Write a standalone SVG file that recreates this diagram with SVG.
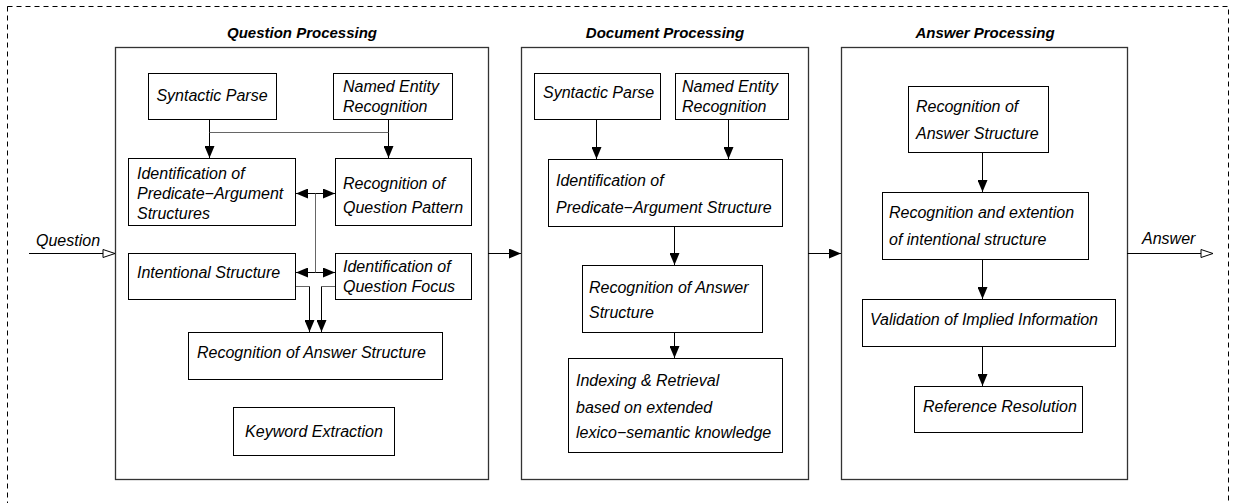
<svg xmlns="http://www.w3.org/2000/svg" width="1235" height="503" viewBox="0 0 1235 503">
<style>
text{font-family:"Liberation Sans",Arial,sans-serif;font-size:16px;font-style:italic;fill:#000}
.title{font-weight:bold;font-size:15px}
.box{fill:#fff;stroke:#000;stroke-width:1}
.panel{fill:none;stroke:#333;stroke-width:1.3}
.ln{fill:none;stroke:#000;stroke-width:1}
.gl{fill:none;stroke:#666;stroke-width:1}
</style>
<defs>
<marker id="ah" viewBox="0 0 12 10" refX="12" refY="5" markerWidth="12" markerHeight="10" markerUnits="userSpaceOnUse" orient="auto-start-reverse"><path d="M0,0L12,5L0,10Z" fill="#000"/></marker>
<marker id="oh" viewBox="0 0 14 10" refX="13" refY="5" markerWidth="14" markerHeight="10" markerUnits="userSpaceOnUse" orient="auto"><path d="M1,1L13,5L1,9Z" fill="#fff" stroke="#000" stroke-width="1"/></marker>
</defs>
<rect x="7.5" y="6.5" width="1221" height="505" fill="none" stroke="#000" stroke-dasharray="5,4"/>

<g id="panels">
<rect class="panel" x="115.5" y="47.5" width="373" height="432"/>
<rect class="panel" x="521.5" y="47.5" width="287" height="432"/>
<rect class="panel" x="841.5" y="47.5" width="286" height="432"/>
<text class="title" x="302" y="38" text-anchor="middle">Question Processing</text>
<text class="title" x="665" y="38" text-anchor="middle">Document Processing</text>
<text class="title" x="985" y="38" text-anchor="middle">Answer Processing</text>
</g>

<g id="q-sp"><rect class="box" x="148.5" y="73.5" width="128" height="46"/><text x="212" y="101" text-anchor="middle">Syntactic Parse</text></g>
<g id="q-ner"><rect class="box" x="333.5" y="73.5" width="119" height="46"/><text x="343" y="92">Named Entity</text><text x="343" y="112">Recognition</text></g>
<g id="q-ipa"><rect class="box" x="128.5" y="158.5" width="167" height="67"/><text x="137" y="179">Identification of</text><text x="137" y="199">Predicate−Argument</text><text x="137" y="219">Structures</text></g>
<g id="q-rqp"><rect class="box" x="335.5" y="158.5" width="136" height="67"/><text x="343" y="189">Recognition of</text><text x="343" y="213">Question Pattern</text></g>
<g id="q-is"><rect class="box" x="128.5" y="253.5" width="167" height="46"/><text x="137" y="278">Intentional Structure</text></g>
<g id="q-iqf"><rect class="box" x="335.5" y="253.5" width="136" height="46"/><text x="343" y="272">Identification of</text><text x="343" y="292">Question Focus</text></g>
<g id="q-ras"><rect class="box" x="188.5" y="332.5" width="254" height="47"/><text x="197" y="358">Recognition of Answer Structure</text></g>
<g id="q-ke"><rect class="box" x="233.5" y="407.5" width="161" height="48"/><text x="314" y="437" text-anchor="middle">Keyword Extraction</text></g>

<g id="d-sp"><rect class="box" x="534.5" y="73.5" width="126" height="46"/><text x="543" y="98">Syntactic Parse</text></g>
<g id="d-ner"><rect class="box" x="675.5" y="73.5" width="113" height="46"/><text x="682" y="92">Named Entity</text><text x="682" y="112">Recognition</text></g>
<g id="d-ipa"><rect class="box" x="548.5" y="159.5" width="234" height="67"/><text x="556" y="186">Identification of</text><text x="556" y="213">Predicate−Argument Structure</text></g>
<g id="d-ras"><rect class="box" x="582.5" y="265.5" width="180" height="67"/><text x="589" y="293">Recognition of Answer</text><text x="589" y="318">Structure</text></g>
<g id="d-ir"><rect class="box" x="568.5" y="358.5" width="214" height="94"/><text x="576" y="386">Indexing &amp; Retrieval</text><text x="576" y="413">based on extended</text><text x="576" y="438">lexico−semantic knowledge</text></g>

<g id="a-ras"><rect class="box" x="908.5" y="86.5" width="140" height="66"/><text x="916" y="112">Recognition of</text><text x="916" y="139">Answer Structure</text></g>
<g id="a-rei"><rect class="box" x="882.5" y="192.5" width="206" height="67"/><text x="889" y="218">Recognition and extention</text><text x="889" y="245">of intentional structure</text></g>
<g id="a-vii"><rect class="box" x="862.5" y="299.5" width="253" height="47"/><text x="870" y="325">Validation of Implied Information</text></g>
<g id="a-rr"><rect class="box" x="914.5" y="386.5" width="168" height="46"/><text x="923" y="412">Reference Resolution</text></g>

<g id="io">
<text x="36" y="246">Question</text>
<text x="1142" y="244">Answer</text>
</g>

<g id="connectors">
<path class="ln" d="M29,253.5H115" marker-end="url(#oh)"/>
<path class="ln" d="M1127,253.5H1213" marker-end="url(#oh)"/>
<path class="ln" d="M488,253.5H521" marker-end="url(#ah)"/>
<path class="ln" d="M808,253.5H841" marker-end="url(#ah)"/>
<path class="ln" d="M209.5,119V158" marker-end="url(#ah)"/>
<path class="ln" d="M388.5,119V158" marker-end="url(#ah)"/>
<path class="gl" d="M209.5,132.5H388.5"/>
<path class="ln" d="M296,193.5H335" marker-start="url(#ah)" marker-end="url(#ah)"/>
<path class="ln" d="M296,272.5H335" marker-start="url(#ah)" marker-end="url(#ah)"/>
<path class="gl" d="M315.5,193.5V272.5"/>
<path class="gl" d="M296,286.5H309.5"/>
<path class="ln" d="M309.5,286.5V332" marker-end="url(#ah)"/>
<path class="gl" d="M335,286.5H321.5"/>
<path class="ln" d="M321.5,286.5V332" marker-end="url(#ah)"/>
<path class="ln" d="M596.5,119V159" marker-end="url(#ah)"/>
<path class="ln" d="M728.5,119V159" marker-end="url(#ah)"/>
<path class="ln" d="M674.5,226V265" marker-end="url(#ah)"/>
<path class="ln" d="M674.5,332V358" marker-end="url(#ah)"/>
<path class="ln" d="M982.5,152V192" marker-end="url(#ah)"/>
<path class="ln" d="M982.5,259V299" marker-end="url(#ah)"/>
<path class="ln" d="M982.5,346V386" marker-end="url(#ah)"/>
</g>
</svg>
